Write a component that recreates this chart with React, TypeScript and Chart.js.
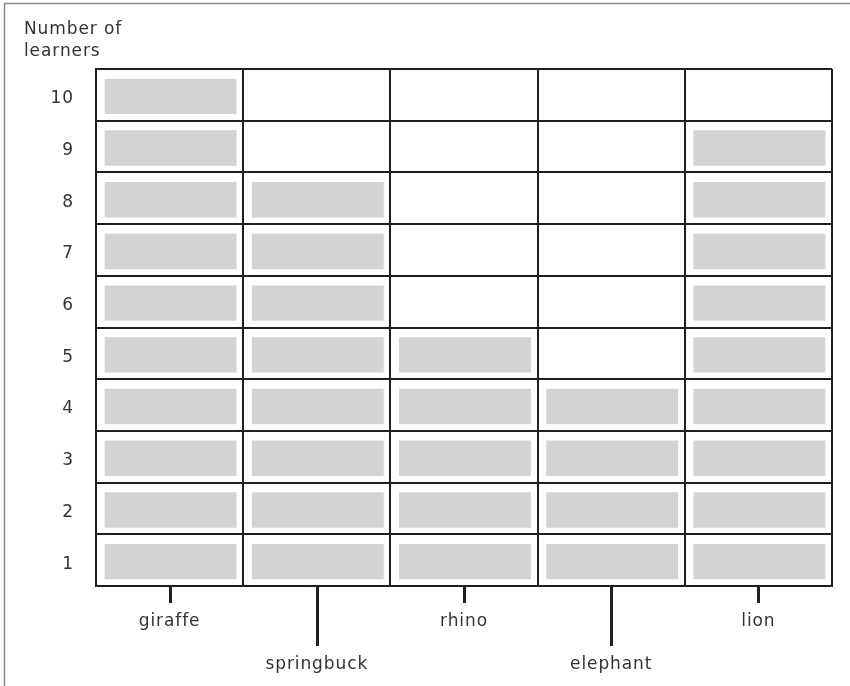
import React, { useEffect, useRef } from "react";
import { Chart, registerables } from "chart.js";

Chart.register(...registerables);

const animals = ["giraffe", "springbuck", "rhino", "elephant", "lion"];
const learners = [10, 8, 5, 4, 9];
const levels = [1, 2, 3, 4, 5, 6, 7, 8, 9, 10];
const yLabels = ["10", "9", "8", "7", "6", "5", "4", "3", "2", "1"];
const titleLines = ["Number of", "learners"];

const INK = "#231f20";
const TEXT = "#333333";
const FONT = "'DejaVu Sans', sans-serif";

const extrasPlugin = {
  id: "extras",
  beforeDraw(chart: any) {
    const ctx = chart.ctx;
    ctx.save();
    ctx.strokeStyle = "#8a8a8a";
    ctx.lineWidth = 1.5;
    ctx.beginPath();
    ctx.moveTo(4.5, chart.height);
    ctx.lineTo(4.5, 3.5);
    ctx.lineTo(chart.width, 3.5);
    ctx.stroke();
    ctx.restore();
    // slightly wider text tracking for the labels drawn afterwards
    try {
      ctx.letterSpacing = "0.9px";
    } catch (e) {}
  },
  afterDraw(chart: any) {
    const ctx = chart.ctx;
    const x = chart.scales.x;
    const bottom = chart.chartArea.bottom;
    ctx.save();
    ctx.strokeStyle = INK;
    ctx.lineWidth = 3;
    animals.forEach((_, i) => {
      const px = Math.round(x.getPixelForValue(i)) + 0.5;
      const len = i % 2 === 1 ? 60 : 17;
      ctx.beginPath();
      ctx.moveTo(px, bottom);
      ctx.lineTo(px, bottom + len);
      ctx.stroke();
    });
    ctx.restore();
  },
};

export default function App() {
  const ref = useRef<HTMLCanvasElement | null>(null);

  useEffect(() => {
    if (!ref.current) return;
    const datasets = levels.map((k) => ({
      label: "level " + k,
      data: learners.map((v) => (v >= k ? 1 : null)),
      backgroundColor: "#d1d3d4",
      borderColor: "rgba(0,0,0,0)",
      borderWidth: { top: 10, bottom: 7, left: 9, right: 7 },
      borderSkipped: false,
      barPercentage: 1,
      categoryPercentage: 1,
      yAxisID: "yv",
      stack: "s",
    }));

    const chart = new Chart(ref.current, {
      type: "bar",
      data: {
        labels: animals.map((a, i) => (i % 2 === 1 ? ["", a] : [a])),
        datasets: datasets as any,
      },
      plugins: [extrasPlugin],
      options: {
        animation: false,
        responsive: false,
        maintainAspectRatio: false,
        layout: { padding: { left: 24, right: 18, top: 0, bottom: 0 } },
        plugins: {
          legend: { display: false },
          tooltip: { enabled: false },
          title: {
            display: true,
            text: titleLines,
            align: "start",
            color: TEXT,
            font: { family: FONT, size: 17, weight: "normal", lineHeight: "22px" },
            padding: { top: 19, bottom: 6 },
          },
        },
        scales: {
          x: {
            type: "category",
            stacked: true,
            offset: true,
            grid: {
              offset: true,
              color: INK,
              lineWidth: 2,
              drawTicks: false,
            },
            border: { color: INK, width: 2 },
            ticks: {
              color: TEXT,
              padding: 14.5,
              maxRotation: 0,
              autoSkip: false,
              font: { family: FONT, size: 17, lineHeight: "43px" },
            },
            afterFit: (s: any) => {
              s.height = 100;
            },
          },
          y: {
            type: "category",
            labels: yLabels,
            position: "left",
            offset: true,
            grid: {
              offset: true,
              color: INK,
              lineWidth: 2,
              drawTicks: false,
            },
            border: { color: INK, width: 2 },
            ticks: {
              color: TEXT,
              padding: 22,
              labelOffset: 4,
              autoSkip: false,
              font: { family: FONT, size: 17 },
            },
            afterFit: (s: any) => {
              s.width = 72;
            },
          },
          yv: {
            type: "linear",
            display: false,
            stacked: true,
            min: 0,
            max: 10,
          },
        },
      } as any,
    });
    return () => chart.destroy();
  }, []);

  return (
    <div style={{ position: "fixed", left: 0, top: 0, width: 850, height: 686, background: "#fff" }}>
      <canvas ref={ref} width={850} height={686} style={{ width: 850, height: 686, display: "block" }} />
    </div>
  );
}
